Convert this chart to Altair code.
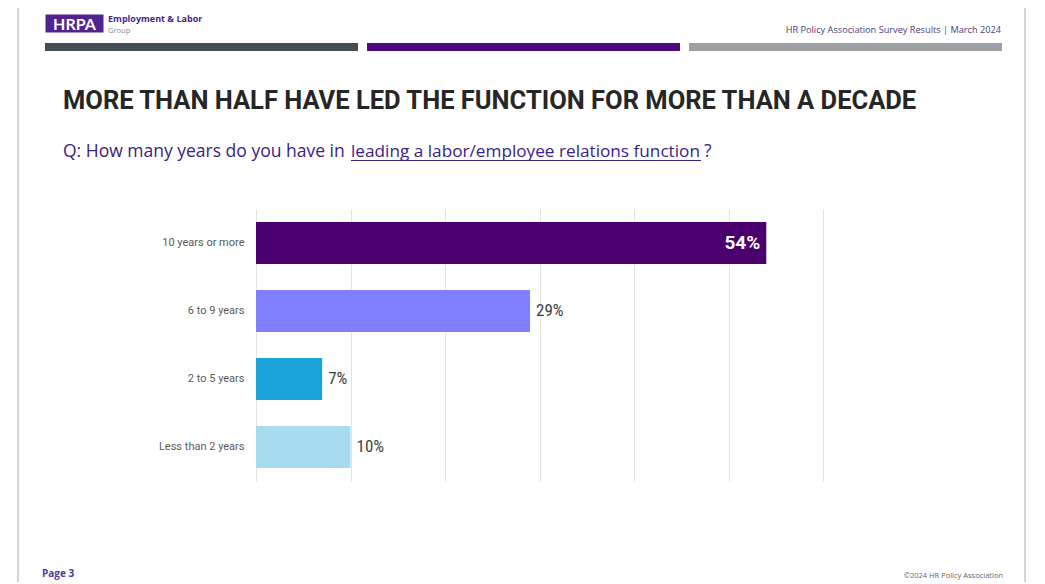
import altair as alt
import pandas as pd

categories = ["10 years or more", "6 to 9 years", "2 to 5 years", "Less than 2 years"]
values = [54, 29, 7, 10]
labels = ["54%", "29%", "7%", "10%"]
colors = ["#4a006f", "#8080ff", "#1ba3dc", "#a7dcf0"]
tick_values = [0, 10, 20, 30, 40, 50, 60]

title_text = "MORE THAN HALF HAVE LED THE FUNCTION FOR MORE THAN A DECADE"
q_prefix = "Q: How many years do you have in"
q_link = "leading a labor/employee relations function"
q_suffix = "?"
header_right = "HR Policy Association Survey Results  | March 2024"
footer_left = "Page 3"
footer_right = "\u00a92024 HR Policy Association"

df = pd.DataFrame({"cat": categories, "val": values, "lab": labels, "col": colors})
df["inside"] = df["val"] > 40

# plot area origin in page pixels
OX, OY = 256, 209
W, H = 567, 272
TOTAL_W, TOTAL_H = 1027, 574


def px(x):
    return x - OX


def py(y):
    return y - OY


y_enc = alt.Y("cat:N", sort=categories, title=None,
              scale=alt.Scale(paddingInner=0.38, paddingOuter=0.19),
              axis=alt.Axis(labelFont="Roboto", labelFontSize=11, labelColor="#5a5a5a",
                            labelPadding=12, ticks=False, domain=False, grid=False))
x_enc = alt.X("val:Q", scale=alt.Scale(domain=[0, 60], nice=False), title=None,
              axis=alt.Axis(values=tick_values, labels=False, ticks=False, domain=False,
                            grid=True, gridColor="#e3e3e3", gridWidth=1))

base = alt.Chart(df)
bars = base.mark_bar().encode(
    x=x_enc, y=y_enc,
    color=alt.Color("col:N", scale=None, legend=None),
)
lab_in = base.transform_filter("datum.inside").mark_text(
    align="right", baseline="middle", dx=-6, font="Roboto", fontSize=19,
    fontWeight="bold", color="white"
).encode(x="val:Q", y=alt.Y("cat:N", sort=categories), text="lab:N")
lab_out = base.transform_filter("!datum.inside").mark_text(
    align="left", baseline="middle", dx=6, font="Roboto Condensed, Roboto", fontSize=17, color="#3d3d3d"
).encode(x="val:Q", y=alt.Y("cat:N", sort=categories), text="lab:N")


def txt(s, x, y, size, color, weight="normal", align="left", font="Roboto", baseline="alphabetic"):
    return alt.Chart(pd.DataFrame({"t": [s]})).mark_text(
        align=align, baseline=baseline, fontSize=size, color=color,
        fontWeight=weight, font=font
    ).encode(x=alt.value(px(x)), y=alt.value(py(y)), text="t:N")


def box(x1, y1, x2, y2, fill, stroke=None, sw=0):
    kw = dict(fill=fill)
    if stroke:
        kw.update(stroke=stroke, strokeWidth=sw)
    return alt.Chart(pd.DataFrame({"a": [0]})).mark_rect(**kw).encode(
        x=alt.value(px(x1)), x2=alt.value(px(x2)), y=alt.value(py(y1)), y2=alt.value(py(y2)))


def hline(x1, x2, y, color, w=1):
    return alt.Chart(pd.DataFrame({"a": [0]})).mark_rule(color=color, strokeWidth=w).encode(
        x=alt.value(px(x1)), x2=alt.value(px(x2)), y=alt.value(py(y)))


frame = alt.Chart(pd.DataFrame({"a": [0]})).mark_rect(
    fillOpacity=0, stroke="#d4d4d4", strokeWidth=2
).encode(x=alt.value(px(18)), x2=alt.value(px(1025)), y=alt.value(py(5)), y2=alt.value(py(600)))

decor = [
    frame,
    box(45, 14, 104, 33, "#52238f", "white", 1),
    txt("HRPA", 74.5, 30, 16, "white", "bold", "center", "Lato"),
    txt("Employment & Labor", 108, 22, 9, "#4b1f86", "bold", "left", "Open Sans"),
    txt("Group", 108, 33, 7.5, "#8a8a8a", "normal", "left", "Open Sans"),
    txt(header_right, 1001, 33, 9.2, "#4b3d7a", "normal", "right", "Open Sans"),
    box(45, 43, 358, 51, "#424e54"),
    box(367, 43, 680, 51, "#4c0b80"),
    box(689, 43, 1002, 51, "#9ea1a4"),
    txt(title_text, 63, 109, 25.5, "#262626", "bold", "left", "Roboto"),
    txt(q_prefix, 63, 157, 17.5, "#3a2288", "normal", "left", "Open Sans"),
    txt(q_link, 351, 157, 17.2, "#3a2288", "normal", "left", "Open Sans"),
    hline(351, 701, 160.5, "#3a2288", 1),
    txt(q_suffix, 704, 157, 17.5, "#3a2288", "normal", "left", "Open Sans"),
    txt(footer_left, 42, 577, 10, "#4b3d9a", "bold", "left", "Open Sans"),
    txt(footer_right, 1003, 578, 7.5, "#666666", "normal", "right", "Open Sans"),
]

chart = alt.layer(*decor, bars, lab_in, lab_out).properties(
    width=W, height=H,
    autosize=alt.AutoSizeParams(type="none"),
    padding={"left": OX - 8, "top": OY - 8, "right": TOTAL_W - (OX - 8) - W,
             "bottom": TOTAL_H - (OY - 8) - H},
    background="white",
).configure_view(stroke=None)

chart.save("out.html", embed_options={"renderer": "svg", "actions": False})
